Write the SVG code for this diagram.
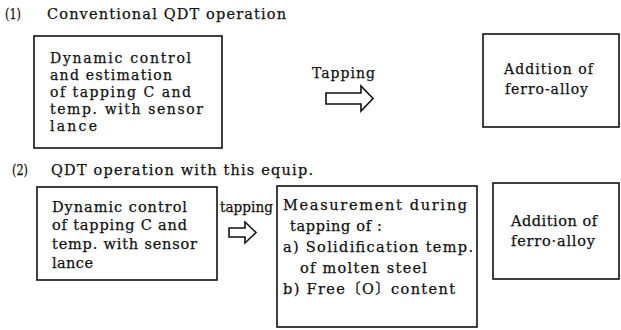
<svg xmlns="http://www.w3.org/2000/svg" width="621" height="330" viewBox="0 0 621 330">
  <style>
    text { font-family: "DejaVu Serif", "Liberation Serif", "Noto Sans CJK JP", serif; fill: #111; stroke: #111; stroke-width: 0.25; }
    .h { font-size: 14.5px; }
    .t { font-size: 14px; }
    .s { font-size: 14.5px; }
    .box { fill: #fff; stroke: #111; stroke-width: 1.6; }
    .arrow { fill: #fff; stroke: #111; stroke-width: 1.6; stroke-linejoin: miter; }
  </style>
  <rect width="621" height="330" fill="#fff"/>

  <!-- section headings -->
  <text class="h" x="5" y="19" textLength="16" lengthAdjust="spacingAndGlyphs">(1)</text>
  <text class="h" x="47" y="19" textLength="239" lengthAdjust="spacing">Conventional QDT operation</text>
  <text class="h" x="12" y="175" textLength="16" lengthAdjust="spacingAndGlyphs">(2)</text>
  <text class="h" x="51" y="175" textLength="262" lengthAdjust="spacing">QDT operation with this equip.</text>

  <!-- (1) conventional route -->
  <g id="conv-control">
    <rect class="box" x="34" y="36" width="188" height="112"/>
    <text class="t" x="50" y="63" textLength="141" lengthAdjust="spacing">Dynamic control</text>
    <text class="t" x="50" y="80" textLength="122" lengthAdjust="spacing">and estimation</text>
    <text class="t" x="50" y="97" textLength="141" lengthAdjust="spacing">of tapping C and</text>
    <text class="t" x="50" y="114" textLength="153" lengthAdjust="spacing">temp. with sensor</text>
    <text class="t" x="50" y="131" textLength="47" lengthAdjust="spacing">lance</text>
  </g>
  <g id="conv-alloy">
    <rect class="box" x="483" y="34" width="136" height="93"/>
    <text class="t" x="504" y="74" textLength="89" lengthAdjust="spacing">Addition of</text>
    <text class="t" x="505" y="94" textLength="83" lengthAdjust="spacing">ferro-alloy</text>
  </g>

  <!-- (2) route with the new equipment -->
  <g id="new-control">
    <rect class="box" x="37" y="187" width="180" height="93"/>
    <text class="s" x="52" y="212" textLength="135" lengthAdjust="spacing">Dynamic control</text>
    <text class="s" x="52" y="230" textLength="135" lengthAdjust="spacing">of tapping C and</text>
    <text class="s" x="52" y="249" textLength="145" lengthAdjust="spacing">temp. with sensor</text>
    <text class="s" x="52" y="268" textLength="41" lengthAdjust="spacing">lance</text>
  </g>
  <g id="new-measure">
    <rect class="box" x="277" y="186" width="200" height="141"/>
    <text class="s" x="283" y="210" textLength="184" lengthAdjust="spacing">Measurement during</text>
    <text class="s" x="290" y="231" textLength="92" lengthAdjust="spacing">tapping of :</text>
    <text class="s" x="283" y="252" textLength="190" lengthAdjust="spacing">a) Solidification temp.</text>
    <text class="s" x="300" y="273" textLength="127" lengthAdjust="spacing">of molten steel</text>
    <text class="s" x="283" y="294" textLength="172" lengthAdjust="spacing">b)  Free〔O〕content</text>
  </g>
  <g id="new-alloy">
    <rect class="box" x="493" y="183" width="126" height="96"/>
    <text class="s" x="511" y="226" textLength="86" lengthAdjust="spacing">Addition of</text>
    <text class="s" x="511" y="246" textLength="84" lengthAdjust="spacing">ferro·alloy</text>
  </g>

  <!-- connectors: hollow block arrows with labels -->
  <g id="connectors">
    <text class="t" x="312" y="78" textLength="63" lengthAdjust="spacing">Tapping</text>
    <path class="arrow" d="M326,93 H361 V86 L373,98.5 L361,111 V104 H326 Z"/>
    <text class="t" x="220" y="212" textLength="53" lengthAdjust="spacingAndGlyphs">tapping</text>
    <path class="arrow" d="M229,228 H245 V222 L256,232.5 L245,243 V237 H229 Z"/>
  </g>
</svg>
